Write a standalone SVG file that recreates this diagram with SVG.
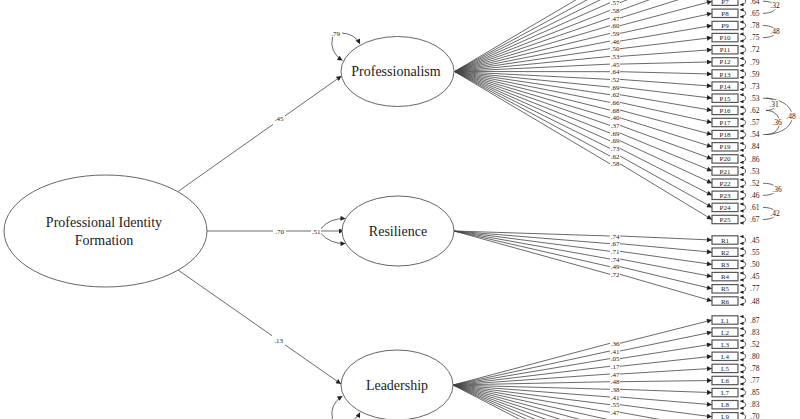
<svg xmlns="http://www.w3.org/2000/svg" width="800" height="419" viewBox="0 0 800 419">
<style>
text{font-family:"Liberation Serif","Times New Roman",serif;fill:#222}
.node{fill:#fff;stroke:#666;stroke-width:1}
.nt{font-size:14px;text-anchor:middle}
.ln{fill:none;stroke:#444;stroke-width:0.8}
.ar{marker-end:url(#ah)}
.box{fill:#fff;stroke:#555;stroke-width:1.2}
.bt{font-size:7px;text-anchor:middle}
.ld{font-size:7px;text-anchor:middle}
.ev{font-size:7.5px}
.lp{fill:none;stroke:#333;stroke-width:0.8;marker-start:url(#sa);marker-end:url(#sa)}
.cv{fill:none;stroke:#444;stroke-width:0.8}
.cl{font-size:7.5px;text-anchor:middle;stroke:#fff;stroke-width:2.5;paint-order:stroke}
.pl{font-size:7px;text-anchor:middle}
</style>
<defs>
<marker id="ah" viewBox="0 0 10 10" refX="10" refY="5" markerWidth="6" markerHeight="5" markerUnits="userSpaceOnUse" orient="auto"><path d="M0,0L10,5L0,10z" fill="#222"/></marker>
<marker id="sa" viewBox="0 0 10 10" refX="10" refY="5" markerWidth="4" markerHeight="3.5" markerUnits="userSpaceOnUse" orient="auto-start-reverse"><path d="M0,0L10,5L0,10z" fill="#222"/></marker>
</defs>
<rect width="800" height="419" fill="#fff"/>

<g id="connectors">
<!-- structural -->
<path class="ln" d="M178,191.5L273,124.4"/>
<path class="ln ar" d="M285,115.9L341.5,76"/>
<path class="ln" d="M207,231L273,231M286,231L311,231"/>
<path class="ln ar" d="M321,231L344,231"/>
<path class="ln" d="M178,270L272,335.7"/>
<path class="ln ar" d="M285,344.8L341,384"/>
<!-- latent variance loops -->
<path class="ln ar" d="M332.5,37Q329,52 342.5,60.5"/>
<path class="ln ar" d="M342,33Q355,34 360,44"/>
<path class="ln ar" d="M321,228.5Q330,218 345.5,218.5"/>
<path class="ln ar" d="M321,233.5Q330,244 345.5,243.5"/>
<path class="ln ar" d="M332.5,419.5Q329,404.5 342.5,396"/>
<path class="ln ar" d="M342,423.5Q355,422.5 360,412.5"/>
<!-- Professionalism loadings -->
<g>
<path class="ln ar" d="M454.5,71.5L610,-20.3M620,-20.3L712,-71.6"/>
<path class="ln ar" d="M454.5,71.5L610,-12.6M620,-12.6L712,-59.5"/>
<path class="ln ar" d="M454.5,71.5L610,-5M620,-5L712,-47.3"/>
<path class="ln ar" d="M454.5,71.5L610,2.7M620,2.7L712,-35.2"/>
<path class="ln ar" d="M454.5,71.5L610,10.4M620,10.4L712,-23.1"/>
<path class="ln ar" d="M454.5,71.5L610,18M620,18L712,-10.9"/>
<path class="ln ar" d="M454.5,71.5L610,25.7M620,25.7L712,1.2"/>
<path class="ln ar" d="M454.5,71.5L610,33.4M620,33.4L712,13.3"/>
<path class="ln ar" d="M454.5,71.5L610,41.1M620,41.1L712,25.5"/>
<path class="ln ar" d="M454.5,71.5L610,48.7M620,48.7L712,37.6"/>
<path class="ln ar" d="M454.5,71.5L610,56.4M620,56.4L712,49.7"/>
<path class="ln ar" d="M454.5,71.5L610,64.1M620,64.1L712,61.9"/>
<path class="ln ar" d="M454.5,71.5L610,71.7M620,71.7L712,74"/>
<path class="ln ar" d="M454.5,71.5L610,79.4M620,79.4L712,86.1"/>
<path class="ln ar" d="M454.5,71.5L610,87.1M620,87.1L712,98.2"/>
<path class="ln ar" d="M454.5,71.5L610,94.7M620,94.7L712,110.4"/>
<path class="ln ar" d="M454.5,71.5L610,102.4M620,102.4L712,122.5"/>
<path class="ln ar" d="M454.5,71.5L610,110.1M620,110.1L712,134.6"/>
<path class="ln ar" d="M454.5,71.5L610,117.8M620,117.8L712,146.8"/>
<path class="ln ar" d="M454.5,71.5L610,125.4M620,125.4L712,158.9"/>
<path class="ln ar" d="M454.5,71.5L610,133.1M620,133.1L712,171"/>
<path class="ln ar" d="M454.5,71.5L610,140.8M620,140.8L712,183.2"/>
<path class="ln ar" d="M454.5,71.5L610,148.4M620,148.4L712,195.3"/>
<path class="ln ar" d="M454.5,71.5L610,156.1M620,156.1L712,207.4"/>
<path class="ln ar" d="M454.5,71.5L610,163.8M620,163.8L712,219.5"/>
</g>
<g class="ld">
<text x="615" y="5.2">.57</text><text x="615" y="12.9">.58</text><text x="615" y="20.5">.47</text>
<text x="615" y="28.2">.60</text><text x="615" y="35.9">.59</text><text x="615" y="43.6">.46</text>
<text x="615" y="51.2">.50</text><text x="615" y="58.9">.53</text><text x="615" y="66.6">.45</text>
<text x="615" y="74.2">.64</text><text x="615" y="81.9">.52</text><text x="615" y="89.6">.69</text>
<text x="615" y="97.2">.62</text><text x="615" y="104.9">.66</text><text x="615" y="112.6">.68</text>
<text x="615" y="120.3">.40</text><text x="615" y="127.9">.37</text><text x="615" y="135.6">.69</text>
<text x="615" y="143.3">.69</text><text x="615" y="150.9">.73</text><text x="615" y="158.6">.62</text>
<text x="615" y="166.3">.58</text>
</g>
<!-- Resilience loadings -->
<path class="ln ar" d="M454,231L610,236M620,236L712,240"/>
<path class="ln ar" d="M454,231L610,243.7M620,243.7L712,252.2"/>
<path class="ln ar" d="M454,231L610,251.3M620,251.3L712,264.4"/>
<path class="ln ar" d="M454,231L610,259M620,259L712,276.6"/>
<path class="ln ar" d="M454,231L610,266.7M620,266.7L712,288.8"/>
<path class="ln ar" d="M454,231L610,274.3M620,274.3L712,301"/>
<g class="ld">
<text x="615" y="238.5">.74</text><text x="615" y="246.2">.67</text><text x="615" y="253.8">.71</text>
<text x="615" y="261.5">.74</text><text x="615" y="269.2">.49</text><text x="615" y="276.8">.72</text>
</g>
<!-- Leadership loadings -->
<path class="ln ar" d="M453,385L610,343.3M620,343.3L712,320"/>
<path class="ln ar" d="M453,385L610,351M620,351L712,332.1"/>
<path class="ln ar" d="M453,385L610,358.6M620,358.6L712,344.2"/>
<path class="ln ar" d="M453,385L610,366.3M620,366.3L712,356.3"/>
<path class="ln ar" d="M453,385L610,374M620,374L712,368.4"/>
<path class="ln ar" d="M453,385L610,381.7M620,381.7L712,380.5"/>
<path class="ln ar" d="M453,385L610,389.3M620,389.3L712,392.6"/>
<path class="ln ar" d="M453,385L610,397M620,397L712,404.7"/>
<path class="ln ar" d="M453,385L610,404.7M620,404.7L712,416.8"/>
<path class="ln ar" d="M453,385L610,412.3M620,412.3L712,428.9"/>
<path class="ln ar" d="M453,385L610,420M620,420L712,441"/>
<path class="ln ar" d="M453,385L610,427.7M620,427.7L712,453.1"/>
<path class="ln ar" d="M453,385L610,435.3M620,435.3L712,465.2"/>
<path class="ln ar" d="M453,385L610,443M620,443L712,477.3"/>
<path class="ln ar" d="M453,385L610,450.7M620,450.7L712,489.4"/>
<path class="ln ar" d="M453,385L610,458.3M620,458.3L712,501.5"/>
<path class="ln ar" d="M453,385L610,466M620,466L712,513.6"/>
<g class="ld">
<text x="615" y="345.8">.36</text><text x="615" y="353.5">.41</text><text x="615" y="361.1">.05</text>
<text x="615" y="368.8">.17</text><text x="615" y="376.5">.47</text><text x="615" y="384.2">.48</text>
<text x="615" y="391.8">.38</text><text x="615" y="399.5">.41</text><text x="615" y="407.2">.55</text>
<text x="615" y="414.8">.47</text>
</g>
<!-- error variance loops -->
<g>
<path class="lp" d="M740,-2.3C747.5,-2.3 747.5,4.7 740,4.7"/>
<path class="lp" d="M740,9.8C747.5,9.8 747.5,16.8 740,16.8"/>
<path class="lp" d="M740,22C747.5,22 747.5,29 740,29"/>
<path class="lp" d="M740,34.1C747.5,34.1 747.5,41.1 740,41.1"/>
<path class="lp" d="M740,46.2C747.5,46.2 747.5,53.2 740,53.2"/>
<path class="lp" d="M740,58.4C747.5,58.4 747.5,65.4 740,65.4"/>
<path class="lp" d="M740,70.5C747.5,70.5 747.5,77.5 740,77.5"/>
<path class="lp" d="M740,82.6C747.5,82.6 747.5,89.6 740,89.6"/>
<path class="lp" d="M740,94.7C747.5,94.7 747.5,101.7 740,101.7"/>
<path class="lp" d="M740,106.9C747.5,106.9 747.5,113.9 740,113.9"/>
<path class="lp" d="M740,119C747.5,119 747.5,126 740,126"/>
<path class="lp" d="M740,131.1C747.5,131.1 747.5,138.1 740,138.1"/>
<path class="lp" d="M740,143.3C747.5,143.3 747.5,150.3 740,150.3"/>
<path class="lp" d="M740,155.4C747.5,155.4 747.5,162.4 740,162.4"/>
<path class="lp" d="M740,167.5C747.5,167.5 747.5,174.5 740,174.5"/>
<path class="lp" d="M740,179.7C747.5,179.7 747.5,186.7 740,186.7"/>
<path class="lp" d="M740,191.8C747.5,191.8 747.5,198.8 740,198.8"/>
<path class="lp" d="M740,203.9C747.5,203.9 747.5,210.9 740,210.9"/>
<path class="lp" d="M740,216C747.5,216 747.5,223 740,223"/>
<path class="lp" d="M740,236.5C747.5,236.5 747.5,243.5 740,243.5"/>
<path class="lp" d="M740,248.7C747.5,248.7 747.5,255.7 740,255.7"/>
<path class="lp" d="M740,260.9C747.5,260.9 747.5,267.9 740,267.9"/>
<path class="lp" d="M740,273.1C747.5,273.1 747.5,280.1 740,280.1"/>
<path class="lp" d="M740,285.3C747.5,285.3 747.5,292.3 740,292.3"/>
<path class="lp" d="M740,297.5C747.5,297.5 747.5,304.5 740,304.5"/>
<path class="lp" d="M740,316.5C747.5,316.5 747.5,323.5 740,323.5"/>
<path class="lp" d="M740,328.6C747.5,328.6 747.5,335.6 740,335.6"/>
<path class="lp" d="M740,340.7C747.5,340.7 747.5,347.7 740,347.7"/>
<path class="lp" d="M740,352.8C747.5,352.8 747.5,359.8 740,359.8"/>
<path class="lp" d="M740,364.9C747.5,364.9 747.5,371.9 740,371.9"/>
<path class="lp" d="M740,377C747.5,377 747.5,384 740,384"/>
<path class="lp" d="M740,389.1C747.5,389.1 747.5,396.1 740,396.1"/>
<path class="lp" d="M740,401.2C747.5,401.2 747.5,408.2 740,408.2"/>
<path class="lp" d="M740,413.3C747.5,413.3 747.5,420.3 740,420.3"/>
</g>
<g class="ev">
<text x="750" y="3.8">.64</text><text x="750" y="15.9">.65</text><text x="750" y="28.1">.78</text>
<text x="750" y="40.2">.75</text><text x="750" y="52.3">.72</text><text x="750" y="64.5">.79</text>
<text x="750" y="76.6">.59</text><text x="750" y="88.7">.73</text><text x="750" y="100.8">.53</text>
<text x="750" y="113">.62</text><text x="750" y="125.1">.57</text><text x="750" y="137.2">.54</text>
<text x="750" y="149.4">.84</text><text x="750" y="161.5">.86</text><text x="750" y="173.6">.53</text>
<text x="750" y="185.8">.52</text><text x="750" y="197.9">.46</text><text x="750" y="210">.61</text>
<text x="750" y="222.1">.67</text>
<text x="750" y="242.6">.45</text><text x="750" y="254.8">.55</text><text x="750" y="267">.50</text>
<text x="750" y="279.2">.45</text><text x="750" y="291.4">.77</text><text x="750" y="303.6">.48</text>
<text x="750" y="322.6">.87</text><text x="750" y="334.7">.83</text><text x="750" y="346.8">.52</text>
<text x="750" y="358.9">.80</text><text x="750" y="371">.78</text><text x="750" y="383.1">.77</text>
<text x="750" y="395.2">.85</text><text x="750" y="407.3">.83</text><text x="750" y="419.4">.70</text>
</g>
<!-- error covariances -->
<path class="cv" d="M763,1.2C780,1.2 780,13.3 763,13.3"/>
<path class="cv" d="M763,25.5C780,25.5 780,37.6 763,37.6"/>
<path class="cv" d="M766,98.2C779,98.2 779,110.4 766,110.4"/>
<path class="cv" d="M766,110.4C784,110.4 784,134.6 766,134.6"/>
<path class="cv" d="M763,98.2C802,98.2 802,134.6 763,134.6"/>
<path class="cv" d="M763,183.2C781,183.2 781,195.3 763,195.3"/>
<path class="cv" d="M763,207.4C780,207.4 780,219.5 763,219.5"/>
<text class="cl" x="775" y="8">.32</text>
<text class="cl" x="775" y="34">.48</text>
<text class="cl" x="774" y="106.5">.31</text>
<text class="cl" x="777" y="124.5">.36</text>
<text class="cl" x="791" y="119">.48</text>
<text class="cl" x="777" y="191.5">.36</text>
<text class="cl" x="775" y="215.5">.42</text>
<!-- path labels -->
<text class="pl" x="279" y="120.5">.45</text>
<text class="pl" x="279.5" y="233.5">.70</text>
<text class="pl" x="316" y="233.5">.51</text>
<text class="pl" x="278.5" y="343">.13</text>
<text class="pl" x="335.5" y="36">.79</text>
</g>

<g id="pif"><ellipse class="node" cx="105.5" cy="231" rx="101.5" ry="56"/><text class="nt" x="104" y="227">Professional Identity</text><text class="nt" x="104" y="245">Formation</text></g>
<g id="professionalism"><ellipse class="node" cx="397.5" cy="71.5" rx="56.5" ry="35"/><text class="nt" x="396" y="76">Professionalism</text></g>
<g id="resilience"><ellipse class="node" cx="398" cy="231" rx="56" ry="35"/><text class="nt" x="398" y="235.5">Resilience</text></g>
<g id="leadership"><ellipse class="node" cx="397" cy="385" rx="56" ry="35"/><text class="nt" x="397" y="389.5">Leadership</text></g>

<g id="P7"><rect class="box" x="712" y="-3" width="26" height="8.4"/><text class="bt" x="725" y="3.7">P7</text></g>
<g id="P8"><rect class="box" x="712" y="9.1" width="26" height="8.4"/><text class="bt" x="725" y="15.8">P8</text></g>
<g id="P9"><rect class="box" x="712" y="21.3" width="26" height="8.4"/><text class="bt" x="725" y="28">P9</text></g>
<g id="P10"><rect class="box" x="712" y="33.4" width="26" height="8.4"/><text class="bt" x="725" y="40.1">P10</text></g>
<g id="P11"><rect class="box" x="712" y="45.5" width="26" height="8.4"/><text class="bt" x="725" y="52.2">P11</text></g>
<g id="P12"><rect class="box" x="712" y="57.7" width="26" height="8.4"/><text class="bt" x="725" y="64.4">P12</text></g>
<g id="P13"><rect class="box" x="712" y="69.8" width="26" height="8.4"/><text class="bt" x="725" y="76.5">P13</text></g>
<g id="P14"><rect class="box" x="712" y="81.9" width="26" height="8.4"/><text class="bt" x="725" y="88.6">P14</text></g>
<g id="P15"><rect class="box" x="712" y="94" width="26" height="8.4"/><text class="bt" x="725" y="100.7">P15</text></g>
<g id="P16"><rect class="box" x="712" y="106.2" width="26" height="8.4"/><text class="bt" x="725" y="112.9">P16</text></g>
<g id="P17"><rect class="box" x="712" y="118.3" width="26" height="8.4"/><text class="bt" x="725" y="125">P17</text></g>
<g id="P18"><rect class="box" x="712" y="130.4" width="26" height="8.4"/><text class="bt" x="725" y="137.1">P18</text></g>
<g id="P19"><rect class="box" x="712" y="142.6" width="26" height="8.4"/><text class="bt" x="725" y="149.3">P19</text></g>
<g id="P20"><rect class="box" x="712" y="154.7" width="26" height="8.4"/><text class="bt" x="725" y="161.4">P20</text></g>
<g id="P21"><rect class="box" x="712" y="166.8" width="26" height="8.4"/><text class="bt" x="725" y="173.5">P21</text></g>
<g id="P22"><rect class="box" x="712" y="179" width="26" height="8.4"/><text class="bt" x="725" y="185.7">P22</text></g>
<g id="P23"><rect class="box" x="712" y="191.1" width="26" height="8.4"/><text class="bt" x="725" y="197.8">P23</text></g>
<g id="P24"><rect class="box" x="712" y="203.2" width="26" height="8.4"/><text class="bt" x="725" y="209.9">P24</text></g>
<g id="P25"><rect class="box" x="712" y="215.3" width="26" height="8.4"/><text class="bt" x="725" y="222">P25</text></g>

<g id="R1"><rect class="box" x="712" y="235.8" width="26" height="8.4"/><text class="bt" x="725" y="242.5">R1</text></g>
<g id="R2"><rect class="box" x="712" y="248" width="26" height="8.4"/><text class="bt" x="725" y="254.7">R2</text></g>
<g id="R3"><rect class="box" x="712" y="260.2" width="26" height="8.4"/><text class="bt" x="725" y="266.9">R3</text></g>
<g id="R4"><rect class="box" x="712" y="272.4" width="26" height="8.4"/><text class="bt" x="725" y="279.1">R4</text></g>
<g id="R5"><rect class="box" x="712" y="284.6" width="26" height="8.4"/><text class="bt" x="725" y="291.3">R5</text></g>
<g id="R6"><rect class="box" x="712" y="296.8" width="26" height="8.4"/><text class="bt" x="725" y="303.5">R6</text></g>

<g id="L1"><rect class="box" x="712" y="315.8" width="26" height="8.4"/><text class="bt" x="725" y="322.5">L1</text></g>
<g id="L2"><rect class="box" x="712" y="327.9" width="26" height="8.4"/><text class="bt" x="725" y="334.6">L2</text></g>
<g id="L3"><rect class="box" x="712" y="340" width="26" height="8.4"/><text class="bt" x="725" y="346.7">L3</text></g>
<g id="L4"><rect class="box" x="712" y="352.1" width="26" height="8.4"/><text class="bt" x="725" y="358.8">L4</text></g>
<g id="L5"><rect class="box" x="712" y="364.2" width="26" height="8.4"/><text class="bt" x="725" y="370.9">L5</text></g>
<g id="L6"><rect class="box" x="712" y="376.3" width="26" height="8.4"/><text class="bt" x="725" y="383">L6</text></g>
<g id="L7"><rect class="box" x="712" y="388.4" width="26" height="8.4"/><text class="bt" x="725" y="395.1">L7</text></g>
<g id="L8"><rect class="box" x="712" y="400.5" width="26" height="8.4"/><text class="bt" x="725" y="407.2">L8</text></g>
<g id="L9"><rect class="box" x="712" y="412.6" width="26" height="8.4"/><text class="bt" x="725" y="419.3">L9</text></g>
</svg>
